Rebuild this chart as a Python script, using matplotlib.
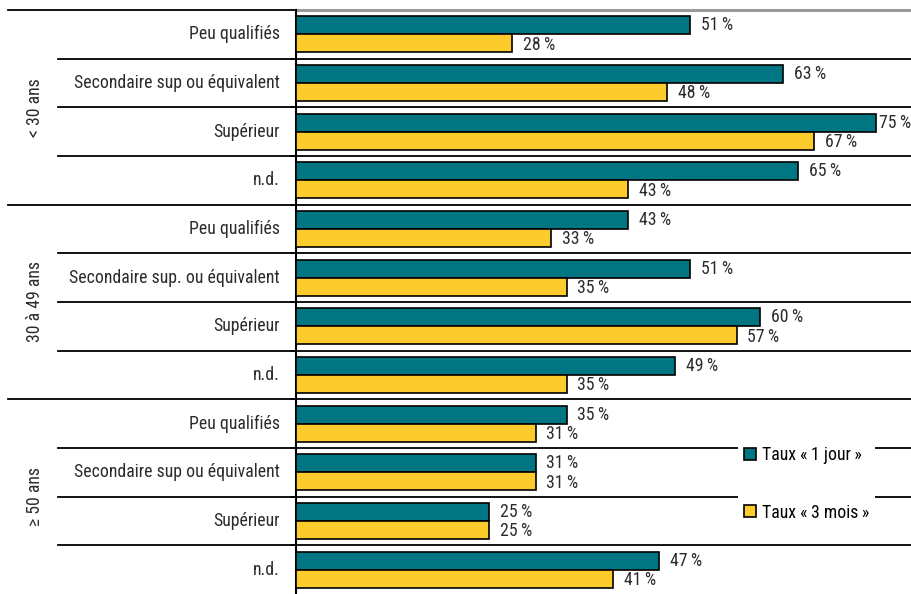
import matplotlib
matplotlib.use("Agg")
import matplotlib.pyplot as plt
from matplotlib import font_manager
from matplotlib.patches import Patch
from matplotlib.transforms import blended_transform_factory

# data
groups = ["< 30 ans", "30 à 49 ans", "\u2265 50 ans"]
categories = [
    "Peu qualifiés", "Secondaire sup ou équivalent", "Supérieur", "n.d.",
    "Peu qualifiés", "Secondaire sup. ou équivalent", "Supérieur", "n.d.",
    "Peu qualifiés", "Secondaire sup ou équivalent", "Supérieur", "n.d.",
]
taux_1_jour = [51, 63, 75, 65, 43, 51, 60, 49, 35, 31, 25, 47]
taux_3_mois = [28, 48, 67, 43, 33, 35, 57, 35, 31, 31, 25, 41]
legend_labels = ["Taux «\u202f1 jour\u202f»", "Taux «\u202f3 mois\u202f»"]

teal = "#007683"
yellow = "#fccb2c"

names = {f.name for f in font_manager.fontManager.ttflist}
family = "Roboto Condensed" if "Roboto Condensed" in names else "Roboto"
plt.rcParams["font.family"] = [family, "DejaVu Sans"]
fs = 12.8
txt = "#2b2b2b"

W, H = 912, 594
xmax = 79.7
fig = plt.figure(figsize=(W / 100, H / 100), dpi=100)
ax = fig.add_axes([296 / W, 0, 1 - 296 / W, 584 / H])

n = len(categories)
y = list(range(n))
bh = 0.37
ax.barh([v - bh / 2 for v in y], taux_1_jour, height=bh, color=teal,
        edgecolor="black", linewidth=1.2, zorder=3)
ax.barh([v + bh / 2 for v in y], taux_3_mois, height=bh, color=yellow,
        edgecolor="black", linewidth=1.2, zorder=3)


def label_x(v):
    # keep the label inside the figure
    return min(v + 1.4, xmax - 4.3)


for i in range(n):
    ax.text(label_x(taux_1_jour[i]), i - bh / 2, f"{taux_1_jour[i]}\u202f%",
            va="center", ha="left", fontsize=fs, color=txt, zorder=4)
    ax.text(label_x(taux_3_mois[i]), i + bh / 2 + 0.03, f"{taux_3_mois[i]}\u202f%",
            va="center", ha="left", fontsize=fs, color=txt, zorder=4)

ax.set_xlim(0, xmax)
ax.set_ylim(n - 0.5, -0.5)
ax.set_xticks([])
bounds = [i + 0.5 for i in range(n - 1)]
ax.set_yticks(bounds)
ax.set_yticklabels([])
ax.tick_params(axis="y", direction="out", length=4, width=1.2, color="black")
for s in ["top", "right", "bottom"]:
    ax.spines[s].set_visible(False)
ax.spines["left"].set_linewidth(1.5)

# separator lines across the figure
tr = blended_transform_factory(fig.transFigure, ax.transData)
for b in bounds:
    x0 = 8 / W if (b + 0.5) % 4 == 0 else 58 / W
    ax.plot([x0, 1], [b, b], color="black", lw=1.3, transform=tr,
            clip_on=False, zorder=1)
ax.plot([8 / W, 296 / W], [-0.5, -0.5], color="black", lw=1.3,
        transform=tr, clip_on=False, zorder=1)
ax.plot([296 / W, 1], [-0.5, -0.5], color="#9a9a9a", lw=2.2,
        transform=tr, clip_on=False, zorder=1)

# category labels
for i, c in enumerate(categories):
    ax.text(280 / W, i, c, transform=tr, ha="right", va="center",
            fontsize=fs, color=txt)

# group labels
for g, name in enumerate(groups):
    ax.text(35 / W, g * 4 + 1.5, name, transform=tr, ha="center",
            va="center", rotation=90, fontsize=fs, color=txt)

handles = [Patch(facecolor=teal, edgecolor="black", linewidth=1.2),
           Patch(facecolor=yellow, edgecolor="black", linewidth=1.2)]
leg = ax.legend(handles, legend_labels, loc="center left",
                bbox_to_anchor=(738 / W, 1 - 484 / H),
                bbox_transform=fig.transFigure, frameon=True,
                fontsize=fs, handlelength=0.65, handleheight=0.65,
                handletextpad=0.35, labelspacing=2.2, borderpad=0.35,
                borderaxespad=0)
leg.get_frame().set_facecolor("white")
leg.get_frame().set_edgecolor("none")
leg.get_frame().set_alpha(1)
leg.set_zorder(5)

fig.savefig("out.png", dpi=100, facecolor="white")
